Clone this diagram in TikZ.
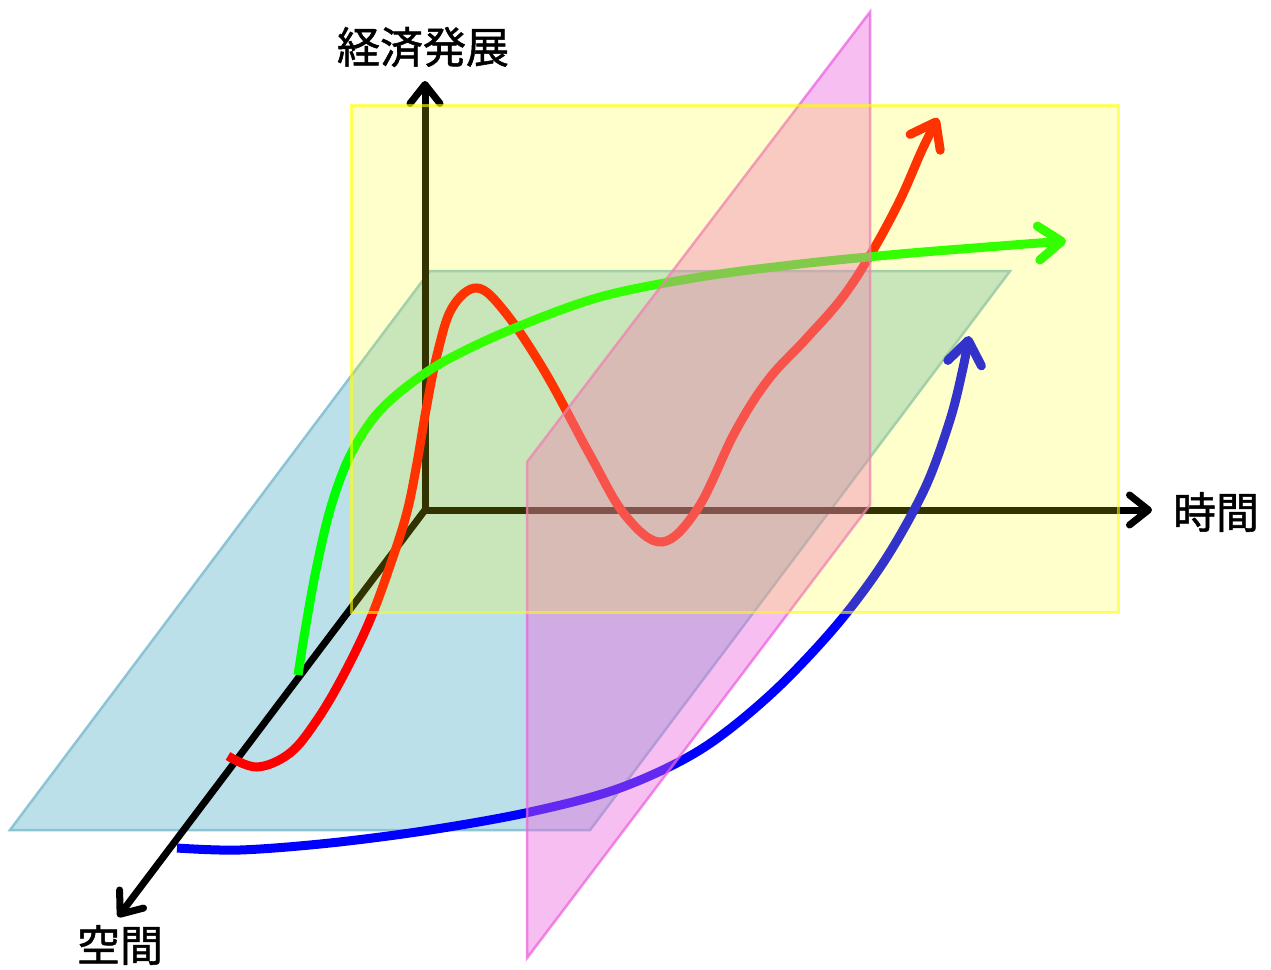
\documentclass[tikz,border=0pt]{standalone}
\usepackage{fontspec}
\newfontfamily\jp{Noto Sans CJK JP}[FakeBold=1.2]
\usetikzlibrary{arrows.meta}
\definecolor{planeblue}{RGB}{188,224,234}
\definecolor{planeblueedge}{RGB}{140,196,212}
\definecolor{planepink}{RGB}{236,100,222}
\definecolor{planeyellow}{RGB}{255,255,0}
\definecolor{curvegreen}{RGB}{0,255,0}
\definecolor{curvered}{RGB}{255,0,0}
\definecolor{curveblue}{RGB}{0,0,255}
\begin{document}
\begin{tikzpicture}[x=1pt,y=-1pt,
  axisline/.style={line width=7pt, line cap=round,
    -{Straight Barb[length=19pt,width=30pt,round]}},
  curveline/.style={line width=9pt, line cap=butt,
    -{Straight Barb[length=23pt,width=34pt,round]}},
  axislabel/.style={font=\jp\fontsize{43}{46}\selectfont, inner sep=0pt},
]
\useasboundingbox (0,0) rectangle (1271,969);

% blue plane
\path[fill=planeblue, draw=planeblueedge, line width=2.5pt]
  (10,830) -- (590,830) -- (1010,271) -- (430,271) -- cycle;

% axes
\coordinate (O) at (425,510);
\coordinate (Ytip) at (425,81);
\coordinate (Xtip) at (1152,510);
\coordinate (Ztip) at (118,917);
\draw[axisline] (O) -- (Ytip);
\draw[axisline] (O) -- (Xtip);
\draw[axisline] (O) -- (Ztip);

% curves
\draw[curveline, curveblue] plot[smooth, tension=0.55] coordinates {
  (177,848) (240,850) (330,843) (430,830) (530,812) (620,788) (700,750)
  (770,695) (835,627) (885,560) (925,488) (950,420) (963,368) (969,336)};
\draw[curveline, curvered] plot[smooth, tension=0.6] coordinates {
  (228,756) (257,767) (290,753) (317,720) (343,676) (370,620) (392,560)
  (407,512) (417,463) (426,410) (437,355) (452,308) (477,288)
  (505,312) (545,372) (590,455) (625,515) (662,542) (698,508)
  (735,432) (768,380) (805,340) (842,298) (872,252) (900,200) (922,150)
  (938,118)};
\draw[curveline, curvegreen] plot[smooth, tension=0.55] coordinates {
  (298,675) (306,625) (316,570) (330,510) (348,460) (372,420) (400,392)
  (443,362) (510,330) (600,297) (700,277) (800,264) (900,254) (1000,246)
  (1066,241)};

% pink plane
\path[fill=planepink, fill opacity=0.42, draw=planepink, draw opacity=0.75, line width=2.5pt]
  (527,462) -- (870,12) -- (870,505) -- (527,958) -- cycle;

% yellow plane
\path[fill=planeyellow, fill opacity=0.2, draw=planeyellow, draw opacity=0.6, line width=3pt]
  (351,105) rectangle (1118,612);

% labels
\node[axislabel] (ylab) at (423,47) {経済発展};
\node[axislabel] (xlab) at (1216,512) {時間};
\node[axislabel] (zlab) at (120,945) {空間};
\end{tikzpicture}
\end{document}
